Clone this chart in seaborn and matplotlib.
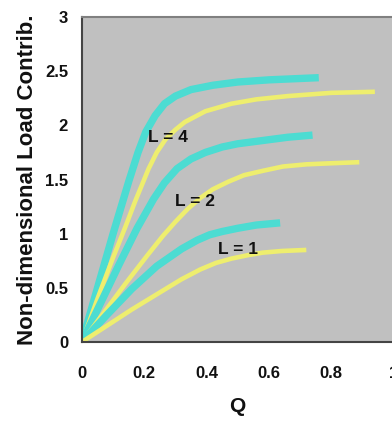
import matplotlib
matplotlib.use("Agg")
import matplotlib.pyplot as plt
import seaborn as sns
import pandas as pd

# Data
l4_cyan_q = [0, 0.05, 0.1, 0.15, 0.18, 0.205, 0.235, 0.265, 0.30, 0.35, 0.42, 0.5, 0.6, 0.76]
l4_cyan_v = [0, 0.50, 1.00, 1.48, 1.75, 1.94, 2.09, 2.20, 2.27, 2.33, 2.37, 2.40, 2.42, 2.44]
l4_yel_q = [0, 0.05, 0.1, 0.139, 0.171, 0.214, 0.24, 0.268, 0.30, 0.33, 0.396, 0.48, 0.56, 0.66, 0.80, 0.94]
l4_yel_v = [0, 0.40, 0.78, 1.06, 1.30, 1.60, 1.75, 1.87, 1.96, 2.03, 2.13, 2.20, 2.24, 2.27, 2.30, 2.31]
l2_cyan_q = [0, 0.06, 0.12, 0.177, 0.23, 0.265, 0.305, 0.35, 0.396, 0.45, 0.50, 0.58, 0.66, 0.74]
l2_cyan_v = [0, 0.36, 0.72, 1.05, 1.32, 1.47, 1.60, 1.69, 1.75, 1.80, 1.83, 1.86, 1.89, 1.91]
l2_yel_q = [0, 0.07, 0.14, 0.21, 0.26, 0.30, 0.34, 0.38, 0.42, 0.47, 0.52, 0.58, 0.645, 0.72, 0.80, 0.89]
l2_yel_v = [0, 0.27, 0.54, 0.80, 0.98, 1.11, 1.23, 1.33, 1.41, 1.48, 1.54, 1.58, 1.62, 1.64, 1.65, 1.66]
l1_cyan_q = [0, 0.08, 0.16, 0.24, 0.32, 0.37, 0.41, 0.45, 0.5, 0.56, 0.636]
l1_cyan_v = [0, 0.25, 0.49, 0.70, 0.86, 0.94, 0.99, 1.02, 1.05, 1.08, 1.10]
l1_yel_q = [0, 0.08, 0.16, 0.24, 0.32, 0.38, 0.43, 0.48, 0.53, 0.58, 0.64, 0.72]
l1_yel_v = [0, 0.15, 0.30, 0.44, 0.58, 0.67, 0.73, 0.77, 0.80, 0.825, 0.84, 0.85]

labels = ["L = 4", "L = 2", "L = 1"]
label_q = [0.276, 0.363, 0.50]
label_v = [1.89, 1.30, 0.85]

x_ticks = [0, 0.2, 0.4, 0.6, 0.8, 1.0]
x_tick_labels = ["0", "0.2", "0.4", "0.6", "0.8", "1"]
y_ticks = [0, 0.5, 1, 1.5, 2, 2.5, 3]
y_tick_labels = ["0", "0.5", "1", "1.5", "2", "2.5", "3"]

sns.set_style("white")
plt.rcParams['font.family'] = ['Liberation Sans', 'DejaVu Sans']

fig = plt.figure(figsize=(3.92, 4.21), dpi=100)
ax = fig.add_axes([0.209, 0.1876, 0.795, 0.772])
ax.set_facecolor("#c0c0c0")

CYAN = "#4cdcd2"
YEL = "#eeee6e"

curves = [
    (l4_cyan_q, l4_cyan_v, CYAN, 5.3),
    (l4_yel_q, l4_yel_v, YEL, 3.3),
    (l2_cyan_q, l2_cyan_v, CYAN, 5.3),
    (l2_yel_q, l2_yel_v, YEL, 3.3),
    (l1_cyan_q, l1_cyan_v, CYAN, 5.3),
    (l1_yel_q, l1_yel_v, YEL, 3.3),
]
for q, v, c, lw in curves:
    df = pd.DataFrame({"Q": q, "V": v})
    sns.lineplot(data=df, x="Q", y="V", ax=ax, color=c, linewidth=lw,
                 sort=False, solid_capstyle="butt", solid_joinstyle="round")

for t, q, v in zip(labels, label_q, label_v):
    ax.text(q, v, t, fontsize=12.5, fontweight="bold", color="#111111",
            ha="center", va="center")

ax.set_xlim(0, 1.0)
ax.set_ylim(0, 3)
ax.set_xticks(x_ticks)
ax.set_xticklabels(x_tick_labels)
ax.set_yticks(y_ticks)
ax.set_yticklabels(y_tick_labels)
ax.tick_params(axis="both", direction="out", length=4, width=1, color="#555555",
               labelsize=12, labelcolor="#111111")
ax.tick_params(axis="x", pad=13)
ax.tick_params(axis="y", pad=6)
for lab in ax.get_xticklabels() + ax.get_yticklabels():
    lab.set_fontweight("bold")

ax.set_xlabel("Q", fontsize=15, fontweight="bold", labelpad=12, color="#111111")
ax.set_ylabel("Non-dimensional Load Contrib.", fontsize=16, fontweight="bold",
              labelpad=5, color="#111111")

for side in ["left", "bottom"]:
    ax.spines[side].set_color("#444444")
    ax.spines[side].set_linewidth(1.5)
ax.spines["top"].set_color("#808080")
ax.spines["top"].set_linewidth(1.5)
ax.spines["right"].set_visible(False)

fig.savefig("out.png", dpi=100)
